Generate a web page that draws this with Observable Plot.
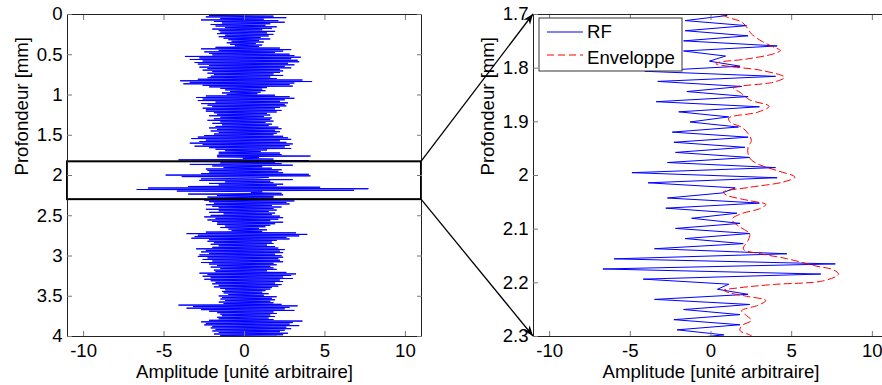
<!DOCTYPE html>
<html><head><meta charset="utf-8">
<script src="https://cdn.jsdelivr.net/npm/d3@7"></script>
<script src="https://cdn.jsdelivr.net/npm/@observablehq/plot@0.6"></script>
<style>
html,body{margin:0;padding:0;background:#fff;overflow:hidden;}
#wrap{position:relative;width:882px;height:385px;overflow:hidden;font-family:"Liberation Sans",Arial,sans-serif;}
#wrap > svg{position:absolute;top:0;}
</style></head><body><div id="wrap"></div>
<script>
// ---------- data ----------
const depthStep = 0.009446;      // mm between successive RF extremes
const zoomStart = 1.7019;        // depth (mm) of first value in rfZoom
const rfTop = [
1.3,-2.2,
1.8,-2.4,2.6,-1.5,1.2,-2.7,2.1,-1.9,2.5,-1.4,
1.6,-2.1,1.3,-1.8,2.0,-1.2,1.7,-2.0,1.1,-1.6,1.9,
-1.5,1.4,-1.7,1.8,-1.2,1.5,-1.6,1.0,-1.3,1.6,
-1.0,0.9,-0.8,1.2,-1.1,0.7,-0.9,1.1,-0.6,0.9,
-1.8,2.2,-2.7,2.9,-1.6,2.4,-2.5,1.9,-2.2,2.8,-2.0,
3.1,-3.7,3.5,-2.8,2.9,-3.4,3.3,-2.6,3.4,-3.1,
2.7,-2.9,3.1,-2.2,2.5,-2.8,2.9,-2.3,2.2,-2.6,2.4,
-2.0,2.2,-2.3,1.8,-1.9,2.4,-2.1,1.6,-2.3,2.0,
-2.9,3.6,-4.0,4.2,-3.4,3.1,-3.8,2.8,-2.6,3.0,-2.2,
1.4,-1.5,1.1,-1.2,1.3,-0.9,1.0,-1.4,0.8,-1.1,
1.9,-2.4,2.8,-3.0,3.1,-2.6,2.5,-2.9,2.2,-1.8,2.7,
-2.7,2.5,-2.3,2.6,-2.0,2.2,-2.6,1.9,-2.4,2.3,
-2.4,2.0,-1.9,1.4,-1.7,1.6,-2.2,1.2,-1.5,1.7,-1.9,
1.6,-2.3,1.8,-1.5,1.3,-2.0,1.7,-1.4,1.5,-1.8,
2.1,-2.2,2.3,-1.7,1.9,-2.1,2.2,-1.6,2.0,-1.9,1.8,
-2.5,2.4,-2.9,2.7,-3.3,2.9,-2.4,2.2,-2.8,2.6,
-3.4,3.0,-2.6,2.8,-3.1,2.5,-2.2,2.9,-1.8,1.4,-1.2
];
const rfZoom = [
1.0,-1.6,2.2,-1.6,2.3,-1.7,4.1,-1.7,0.9,-0.1,
1.8,-4.1,4.0,-3.3,1.9,-1.5,2.3,-3.4,3.0,-2.0,
1.1,-1.3,1.7,-2.4,2.3,-2.3,2.1,-2.2,2.4,-2.7,
4.0,-4.9,4.1,-3.9,1.5,0.7,-2.7,3.0,-2.8,1.6,
-1.2,1.8,-2.2,2.4,-1.6,2.0,-3.5,4.7,-6.0,7.7,
-6.7,6.8,-4.2,1.1,0.4,2.3,-3.5,2.4,-1.7,1.8,
-2.3,1.8,-2.1,0.8
];
const rfBottom = [
-2.5,3.1,-2.2,2.6,-1.9,2.8,-2.4,1.7,-2.0,2.3,-1.6,
1.8,-2.4,2.0,-1.6,1.5,-2.2,1.9,-1.3,1.7,-2.1,
2.2,-2.5,2.4,-1.8,2.1,-2.3,1.6,-2.0,2.4,-1.7,1.9,
-1.7,1.6,-1.2,1.3,-1.5,0.9,-1.0,1.4,-0.8,1.1,
-2.4,3.2,-3.6,3.9,-2.9,3.4,-3.1,2.6,-3.3,2.8,-2.2,
2.0,-2.3,1.7,-1.9,1.8,-2.1,1.4,-1.6,1.9,-2.0,
2.1,-3.0,2.5,-2.4,2.2,-2.7,2.4,-2.2,1.9,-2.8,2.3,
-2.9,2.4,-2.3,2.1,-2.6,2.2,-2.0,2.4,-2.7,1.8,
-2.2,2.0,-1.7,1.6,-2.1,1.8,-1.5,2.0,-1.9,1.4,-1.8,
2.6,-2.8,3.2,-2.3,2.9,-2.6,2.4,-2.1,3.0,-2.5,
2.2,-2.1,2.4,-1.8,1.9,-2.0,2.3,-1.6,2.1,-1.9,1.7,
-1.5,1.6,-1.2,1.3,-1.4,1.1,-1.3,1.5,-1.0,1.2,
-1.6,2.0,-1.4,1.7,-1.5,1.9,-1.2,1.6,-1.6,1.8,-1.3,
2.3,-4.1,3.3,-3.2,2.8,-3.6,2.5,-2.7,3.1,-2.2,
1.8,-1.7,2.0,-1.5,1.6,-1.4,1.9,-1.7,1.5,-1.6,1.8,
-2.2,3.6,-2.7,3.0,-2.4,2.8,-2.5,3.4,-2.0,2.6,
-2.1,2.9,-1.8,2.5,-2.0,2.2,-1.6,2.7,-1.9,2.4,-1.5,
2.0,-1.8
];
const envDepth = [1.700,1.705,1.714,1.727,1.736,1.749,1.761,1.767,1.773,1.783,1.789,1.792,1.797,1.804,1.817,1.826,1.837,1.845,1.859,1.871,1.882,1.893,1.901,1.910,1.922,1.935,1.947,1.960,1.971,1.981,1.991,2.003,2.012,2.022,2.031,2.037,2.047,2.054,2.062,2.071,2.081,2.087,2.096,2.109,2.121,2.137,2.146,2.155,2.168,2.176,2.184,2.196,2.203,2.209,2.214,2.219,2.225,2.233,2.242,2.252,2.261,2.270,2.280,2.289,2.297,2.301];
const envAmp = [0.7,1.0,1.9,2.3,2.5,3.1,3.9,4.3,3.9,2.2,0.5,0.3,1.2,3.1,4.55,3.9,1.4,1.8,2.4,3.6,2.9,1.1,1.2,1.9,2.3,2.5,2.3,2.3,2.5,3.1,4.1,5.2,4.5,2.4,0.75,1.0,2.4,3.4,3.0,1.9,1.3,1.4,1.8,2.4,2.3,2.0,3.1,4.7,6.4,7.6,7.9,7.0,3.9,1.8,0.8,1.2,2.2,3.4,2.9,1.9,2.2,2.5,1.9,1.8,2.4,2.6];
const ampDomain = [-11, 11];
const ampTicks = [-10, -5, 0, 5, 10];
const leftDepthDomain = [0, 4];
const leftDepthTicks = [0, 0.5, 1, 1.5, 2, 2.5, 3, 3.5, 4];
const rightDepthDomain = [1.7, 2.3];
const rightDepthTicks = [1.7, 1.8, 1.9, 2, 2.1, 2.2, 2.3];
const boxDepth = [1.83, 2.3];
const seriesNames = ["RF", "Enveloppe"];
const xTitle = "Amplitude [unité arbitraire]";
const yTitle = "Profondeur [mm]";

// ---------- build tables ----------
const zoomEnd = zoomStart + (rfZoom.length - 1) * depthStep;
const rf = [
  ...rfTop.map((a, i) => ({depth: zoomStart - (rfTop.length - i) * depthStep, amp: a})),
  ...rfZoom.map((a, i) => ({depth: zoomStart + i * depthStep, amp: a})),
  ...rfBottom.map((a, i) => ({depth: zoomEnd + (i + 1) * depthStep, amp: a}))
];
const env = envDepth.map((d, i) => ({depth: d, amp: envAmp[i]}));
const box = [{d1: boxDepth[0], d2: boxDepth[1], a1: ampDomain[0], a2: ampDomain[1]}];

const FS = 18.6;
const tickColor = "#777";
function axisMarks(depthTicks) {
  return [
    Plot.axisX({anchor: "bottom", ticks: ampTicks, tickSize: 0, tickPadding: 7, tickFormat: d => String(d), label: null}),
    Plot.axisX({anchor: "bottom", ticks: ampTicks, tickSize: -5, tickFormat: () => "", label: null, stroke: tickColor}),
    Plot.axisX({anchor: "top", ticks: ampTicks, tickSize: -5, tickFormat: () => "", label: null, stroke: tickColor}),
    Plot.axisY({anchor: "left", ticks: depthTicks, tickSize: 0, tickPadding: 5, tickFormat: d => String(d), label: null}),
    Plot.axisY({anchor: "left", ticks: depthTicks, tickSize: -5, tickFormat: () => "", label: null, stroke: tickColor}),
    Plot.axisY({anchor: "right", ticks: depthTicks, tickSize: -5, tickFormat: () => "", label: null, stroke: tickColor}),
    Plot.text([xTitle], {frameAnchor: "bottom", dy: 36, lineAnchor: "middle", fontSize: FS}),
    Plot.text([yTitle], {frameAnchor: "left", dx: -45, rotate: -90, lineAnchor: "middle", fontSize: FS})
  ];
}
const style = {fontFamily: '"Liberation Sans", Arial, sans-serif', fontSize: FS + "px", background: "transparent", color: "#000"};

const left = Plot.plot({
  width: 430, height: 385, marginLeft: 67, marginRight: 9, marginTop: 14, marginBottom: 49,
  style,
  x: {domain: ampDomain},
  y: {domain: leftDepthDomain, reverse: true},
  marks: [
    Plot.line(rf, {x: "amp", y: "depth", stroke: "#0000ff", strokeWidth: 1, clip: true}),
    Plot.rect(box, {x1: "a1", x2: "a2", y1: "d1", y2: "d2", fill: "none", stroke: "#000", strokeWidth: 2}),
    Plot.frame({stroke: "#222"}),
    ...axisMarks(leftDepthTicks)
  ]
});

const right = Plot.plot({
  width: 460, height: 385, marginLeft: 93, marginRight: 12, marginTop: 14, marginBottom: 49,
  style,
  x: {domain: ampDomain},
  y: {domain: rightDepthDomain, reverse: true},
  marks: [
    Plot.line(rf, {x: "amp", y: "depth", stroke: "#0000ff", strokeWidth: 1, clip: true}),
    Plot.line(env, {x: "amp", y: "depth", stroke: "#ff0000", strokeWidth: 1, strokeDasharray: "7,4", curve: "catmull-rom", clip: true}),
    Plot.frame({stroke: "#222"}),
    ...axisMarks(rightDepthTicks)
  ]
});

const wrap = document.getElementById("wrap");
const rightOffset = 440;
left.style.left = "0px";
right.style.left = rightOffset + "px";
wrap.appendChild(left);
wrap.appendChild(right);

// ---------- overlay: zoom arrows and legend ----------
const lx = left.scale("x"), ly = left.scale("y");
const rx = right.scale("x"), ry = right.scale("y");
const ov = d3.create("svg").attr("width", 882).attr("height", 385)
  .style("position", "absolute").style("left", "0px").style("top", "0px")
  .style("font-family", '"Liberation Sans", Arial, sans-serif');
ov.append("defs").append("marker")
  .attr("id", "ah").attr("viewBox", "0 0 10 10").attr("refX", 10).attr("refY", 5)
  .attr("markerWidth", 8).attr("markerHeight", 8).attr("orient", "auto")
  .append("path").attr("d", "M0,1 L10,5 L0,9 L3,5 Z").attr("fill", "#000");
const arrows = [
  {x1: lx.apply(ampDomain[1]), y1: ly.apply(boxDepth[0]), x2: rx.apply(ampDomain[0]) + rightOffset, y2: ry.apply(rightDepthDomain[0])},
  {x1: lx.apply(ampDomain[1]), y1: ly.apply(boxDepth[1]), x2: rx.apply(ampDomain[0]) + rightOffset, y2: ry.apply(rightDepthDomain[1])}
];
ov.selectAll("line.arr").data(arrows).join("line").attr("class", "arr")
  .attr("x1", d => d.x1).attr("y1", d => d.y1).attr("x2", d => d.x2).attr("y2", d => d.y2)
  .attr("stroke", "#000").attr("stroke-width", 1.3).attr("marker-end", "url(#ah)");

const gx = rx.apply(ampDomain[0]) + rightOffset + 6, gy = ry.apply(rightDepthDomain[0]) + 4;
const lg = ov.append("g");
lg.append("rect").attr("x", gx).attr("y", gy).attr("width", 143).attr("height", 53)
  .attr("fill", "#fff").attr("stroke", "#333").attr("stroke-width", 1);
const legendItems = [
  {name: seriesNames[0], color: "#0000ff", dash: null, y: 14, base: 20},
  {name: seriesNames[1], color: "#ff0000", dash: "7,4", y: 37, base: 46}
];
legendItems.forEach(it => {
  lg.append("line").attr("x1", gx + 8).attr("x2", gx + 44).attr("y1", gy + it.y).attr("y2", gy + it.y)
    .attr("stroke", it.color).attr("stroke-width", 1).attr("stroke-dasharray", it.dash);
  lg.append("text").attr("x", gx + 48).attr("y", gy + it.base).attr("font-size", FS).text(it.name);
});
wrap.appendChild(ov.node());
</script>
</body></html>
